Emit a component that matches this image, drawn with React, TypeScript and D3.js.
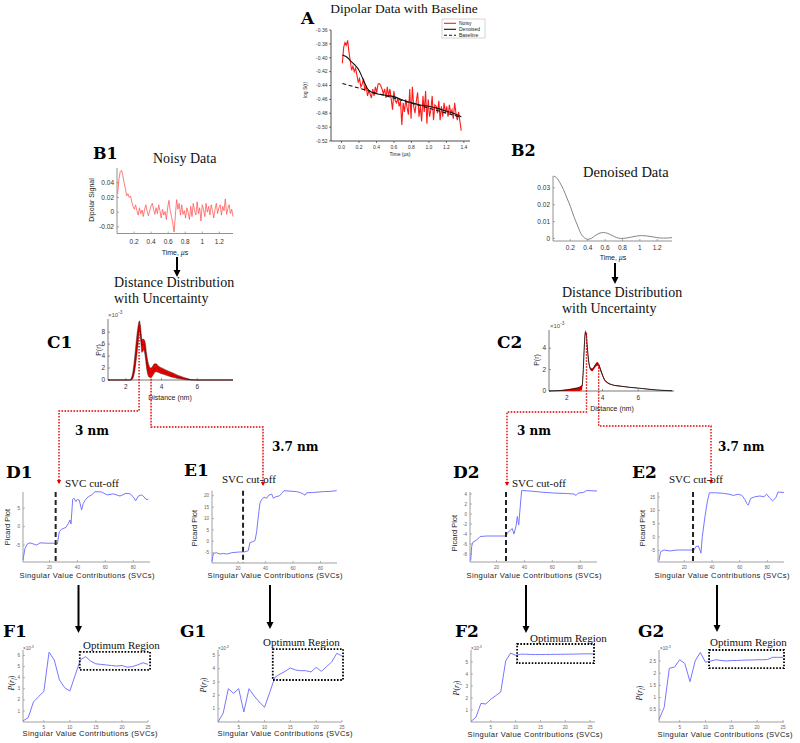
import React from 'react';
import * as d3 from 'd3';

const SERIF = "'Liberation Serif','Times New Roman',serif";
const BOLD = "'DejaVu Serif','Liberation Serif',serif";
const SANS = "'Liberation Sans',Arial,sans-serif";

// ---------- Panel A ----------
const aNoisy = [
  -0.408, -0.385, -0.378, -0.382, -0.375, -0.392, -0.405, -0.418, -0.412, -0.42,
  -0.415, -0.425, -0.435, -0.43, -0.442, -0.438, -0.43, -0.448, -0.44, -0.455,
  -0.448, -0.452, -0.458, -0.445, -0.455, -0.442, -0.45, -0.438, -0.437, -0.44,
  -0.445, -0.452, -0.445, -0.458, -0.442, -0.455, -0.445, -0.46, -0.475, -0.448,
  -0.462, -0.465, -0.458, -0.47, -0.462, -0.497, -0.465, -0.478, -0.46, -0.472,
  -0.482, -0.445, -0.488, -0.442, -0.47, -0.48, -0.462, -0.45, -0.485, -0.47,
  -0.492, -0.455, -0.478, -0.448, -0.495, -0.46, -0.485, -0.475, -0.455, -0.49,
  -0.468, -0.47, -0.48, -0.462, -0.49, -0.47, -0.485, -0.465, -0.48, -0.47,
  -0.485, -0.468, -0.48, -0.475, -0.488, -0.465, -0.48, -0.49, -0.478, -0.492,
  -0.505,
];
const aTimeSpan = [0.01, 1.37];
const aDenoisedT = [0.01, 0.06, 0.1, 0.15, 0.2, 0.25, 0.3, 0.35, 0.4, 0.5, 0.6, 0.7, 0.8, 0.9, 1.0, 1.1, 1.2, 1.3, 1.37];
const aDenoisedV = [-0.396, -0.399, -0.404, -0.41, -0.418, -0.432, -0.445, -0.45, -0.452, -0.454, -0.456, -0.461, -0.465, -0.468, -0.47, -0.473, -0.477, -0.481, -0.485];
const aBaselineT = [0.01, 1.37];
const aBaselineV = [-0.437, -0.486];
const aXTicks = [0, 0.2, 0.4, 0.6, 0.8, 1.0, 1.2, 1.4];
const aYTicks = [-0.52, -0.5, -0.48, -0.46, -0.44, -0.42, -0.4, -0.38, -0.36];
const aLegend = ['Noisy', 'Denoised', 'Baseline'];

// ---------- Panel B ----------
const b1Noisy = [
  0.025, 0.045, 0.055, 0.057, 0.05, 0.04, 0.032, 0.022, 0.025, 0.02,
  0.022, 0.014, 0.008, 0.004, 0.01, 0.002, -0.004, 0.006, -0.002, 0.003,
  -0.006, 0.004, 0.01, 0.001, -0.005, 0.002, 0.008, 0.012, 0.004, -0.003,
  0.006, -0.002, 0.01, 0.002, -0.008, 0.004, -0.004, 0.001, -0.01, 0.006,
  0.016, 0.002, -0.006, -0.015, -0.027, -0.005, 0.017, 0.004, 0.012, -0.004,
  0.01, -0.003, 0.002, -0.008, 0.006, 0.0, -0.01, 0.008, -0.006, 0.012,
  0.002, -0.004, 0.014, -0.002, 0.006, -0.012, 0.01, 0.004, -0.006, 0.012,
  0.0, 0.008, -0.004, 0.01, 0.002, -0.008, 0.004, 0.012, -0.002, 0.006,
  0.01, -0.004, 0.008, 0.002, 0.018, -0.003, 0.005, 0.01, -0.002, 0.004,
  -0.006,
];
const b1TimeSpan = [0.008, 1.36];
const b2T = [0.005, 0.04, 0.08, 0.12, 0.16, 0.2, 0.24, 0.28, 0.32, 0.36, 0.4, 0.44, 0.48, 0.53, 0.58, 0.63, 0.68, 0.73, 0.78, 0.84, 0.9, 0.96, 1.02, 1.08, 1.14, 1.2, 1.27, 1.33, 1.37];
const b2V = [0.037, 0.036, 0.033, 0.029, 0.024, 0.019, 0.013, 0.008, 0.003, 0.0005, -0.0005, 0.0, 0.0015, 0.003, 0.0035, 0.003, 0.0018, 0.0006, 0.0, 0.0002, 0.0008, 0.0014, 0.0017, 0.0015, 0.001, 0.0005, 0.0002, 0.0003, 0.0005];
const bXTicks = [0.2, 0.4, 0.6, 0.8, 1, 1.2];
const b1YTicks = [-0.02, 0, 0.02, 0.04];
const b2YTicks = [0, 0.01, 0.02, 0.03];

// ---------- Panel C ----------
const c1Nm = [1, 2.2, 2.3, 2.4, 2.5, 2.6, 2.7, 2.76, 2.82, 2.9, 3.0, 3.08, 3.15, 3.22, 3.3, 3.4, 3.5, 3.6, 3.7, 3.8, 3.95, 4.1, 4.3, 4.5, 4.7, 4.9, 5.1, 5.3, 5.5, 5.7, 6, 8];
const c1Mean = [0, 0, 0.1, 0.8, 2.5, 5.2, 8.0, 9.2, 8.0, 5.8, 6.0, 5.2, 3.5, 2.2, 1.4, 1.1, 1.4, 1.9, 2.1, 1.9, 1.6, 1.4, 1.15, 0.9, 0.7, 0.5, 0.35, 0.2, 0.1, 0.02, 0, 0];
const c1Lo = [0, 0, 0, 0.3, 1.5, 3.8, 6.5, 8.2, 7.0, 4.6, 5.0, 4.0, 2.2, 1.0, 0.5, 0.4, 0.7, 1.2, 1.4, 1.3, 1.1, 0.95, 0.75, 0.55, 0.4, 0.25, 0.15, 0.07, 0.02, 0, 0, 0];
const c1Hi = [0, 0, 0.3, 1.5, 4.0, 7.0, 9.3, 9.9, 9.0, 6.8, 6.8, 6.3, 4.6, 3.3, 2.4, 2.0, 2.3, 2.7, 2.7, 2.4, 2.1, 1.9, 1.6, 1.35, 1.1, 0.8, 0.6, 0.38, 0.2, 0.05, 0, 0];
const c2Nm = [1, 1.5, 2, 2.4, 2.7, 2.85, 2.92, 2.98, 3.04, 3.08, 3.14, 3.22, 3.32, 3.42, 3.55, 3.7, 3.8, 3.95, 4.1, 4.3, 4.5, 5, 5.5, 6, 6.5, 7, 7.5, 7.9];
const c2Mean = [0, 0.03, 0.1, 0.2, 0.3, 0.45, 2.0, 4.3, 5.5, 5.4, 4.2, 2.8, 2.1, 2.0, 2.3, 2.6, 2.4, 1.7, 1.1, 0.75, 0.6, 0.45, 0.35, 0.27, 0.18, 0.1, 0.05, 0.02];
const c2Lo = [0, 0, 0, 0, 0, 0.1, 1.7, 4.0, 5.3, 5.2, 4.0, 2.6, 1.95, 1.85, 2.1, 2.35, 2.2, 1.55, 1.0, 0.7, 0.55, 0.42, 0.33, 0.25, 0.16, 0.09, 0.04, 0.01];
const c2Hi = [0, 0.05, 0.15, 0.28, 0.4, 0.6, 2.2, 4.5, 5.65, 5.55, 4.35, 2.95, 2.2, 2.1, 2.4, 2.7, 2.5, 1.8, 1.15, 0.8, 0.63, 0.48, 0.37, 0.29, 0.2, 0.11, 0.06, 0.03];
const cXTicks = [2, 4, 6];
const c1YTicks = [0, 2, 4, 6, 8];
const c2YTicks = [0, 2, 4];
const c1Picks = [2.74, 3.41];
const c2Picks = [3.1, 3.78];
const pickLabels = ['3 nm', '3.7 nm'];

// ---------- Panels D / E (Picard plots) ----------
const d1X = [1, 2.4, 4.1, 6, 8.4, 10.8, 13.2, 18, 23.9, 25.6, 27, 28.7, 31.8, 33.5, 34.7, 35.4, 36.6, 37.5, 38.9, 39.9, 41.3, 43, 44.2, 45.9, 47.8, 50.2, 52.6, 57.4, 59.8, 61.4, 65.7, 70.5, 74.8, 77.7, 80, 81.7, 83.6, 86, 87.7, 89.1, 90.8];
const d1Y = [-9.1, -5.9, -4.7, -4.4, -4.7, -5.0, -4.4, -4.5, -4.5, -4.7, -1.4, -0.7, -0.2, 0.9, 1.8, 0.7, 7.4, 7.7, 6.8, 7.4, 7.2, 4.5, 6.3, 7.4, 8.1, 8.6, 9.5, 9.4, 8.9, 8.6, 8.9, 8.3, 9.05, 8.9, 8.1, 7.0, 8.3, 8.6, 8.1, 7.4, 7.4];
const e1X = [1, 2, 4.4, 6.8, 9.2, 11.7, 15.3, 20.1, 25, 27.4, 28.6, 30.3, 32.3, 33.5, 34.7, 35.9, 37.2, 38.9, 40.8, 42.5, 44.5, 45.7, 47.6, 50, 51.7, 53.4, 57.8, 62.7, 65.6, 67.5, 68.7, 69.9, 74.8, 82, 86.9, 91.8];
const e1Y = [-8.9, -5.3, -5.0, -5.6, -5.3, -5.6, -5.0, -4.7, -4.6, -4.1, -0.6, -0.2, 0.3, 4.2, 10.8, 16.7, 18.4, 19.3, 18.9, 20.3, 20.7, 18.9, 19.6, 19.9, 21.0, 22.2, 22.0, 21.8, 21.3, 20.7, 20.2, 21.3, 21.4, 21.8, 21.9, 22.2];
const d2X = [1.5, 2.2, 2.9, 5.8, 8.2, 13, 26.8, 28, 29.7, 31.3, 32.5, 34, 34.9, 35.9, 36.8, 38, 44, 51.2, 60.7, 70.3, 75.5, 77, 78.6, 82.2, 84.6, 92];
const d2Y = [-9.3, -6.5, -5.7, -5.2, -4.5, -4.4, -4.4, -3.7, -3.3, -2.9, -4.0, -2.4, -0.5, -2.2, 0.8, 4.7, 4.6, 4.4, 4.2, 4.1, 4.0, 3.7, 4.2, 4.3, 4.7, 4.6];
const e2X = [1.7, 2.9, 5.3, 9.7, 14.5, 24.1, 27, 28.4, 30.1, 31.3, 32, 33, 34.9, 36.6, 38.1, 43.4, 48.2, 53, 55.4, 58.3, 61.4, 63.8, 65, 66.2, 67.9, 71, 74.6, 77.5, 79.5, 81.4, 83.8, 86.2, 87.6, 92];
const e2Y = [-8.9, -5.5, -4.9, -5.25, -4.9, -4.9, -4.9, -3.6, -3.4, -4.9, -6.1, 0.1, 7.6, 13.2, 16.6, 16.6, 16.4, 16.0, 15.6, 16.0, 15.75, 14.1, 12.6, 12.0, 14.5, 15.1, 15.4, 15.1, 16.1, 14.8, 13.6, 14.8, 16.9, 16.7];
const svcCutoff = { d1: 24.4, e1: 23.6, d2: 26.8, e2: 26.3 };
const deXTicks = [20, 40, 60, 80];

// ---------- Panels F / G ----------
const f1 = [0.1, 0.4, 1.8, 2.3, 2.75, 6.3, 5.6, 3.8, 3.1, 2.8, 4.2, 5.6, 5.9, 5.5, 5.25, 5.2, 5.15, 5.1, 5.05, 5.1, 4.95, 5.0, 5.15, 5.35, 5.2];
const g1 = [0, 0.65, 2.5, 2.15, 2.5, 0.75, 2.5, 1.95, 1.5, 1.1, 2.2, 3.35, 3.6, 3.8, 4.05, 3.9, 3.85, 3.85, 3.75, 4.1, 3.8, 4.15, 4.5, 5.15, 4.95];
const f2 = [0.05, 0.4, 1.55, 1.5, 1.9, 2.2, 2.5, 5.1, 5.75, 5.55, 5.65, 5.65, 5.63, 5.62, 5.62, 5.63, 5.63, 5.64, 5.64, 5.65, 5.65, 5.66, 5.67, 5.68, 5.68, 5.66];
const g2 = [0.1, 0.6, 2.2, 2.25, 2.55, 2.4, 1.65, 2.5, 2.85, 2.45, 2.5, 2.55, 2.52, 2.5, 2.52, 2.52, 2.53, 2.54, 2.54, 2.55, 2.55, 2.56, 2.65, 2.65, 2.65];
const fgXTicks = [5, 10, 15, 20, 25];
const optF1 = [11.9, 25.4, 4.7, 6.33];
const optG1 = [11.6, 25.2, 3.15, 5.47];
const optF2 = [10.3, 25.8, 4.9, 6.5];
const optG2 = [10.7, 25.2, 2.21, 2.95];

type Lin = d3.ScaleLinear<number, number>;

function Axes(p: {
  x: Lin; y: Lin; xt: number[]; yt: number[]; fs: number;
  xf?: (v: number) => string; yf?: (v: number) => string;
  col?: string; tcol?: string; tl?: number; out?: boolean; xOff?: number; yOff?: number;
}) {
  const xf = p.xf ?? ((v: number) => String(v));
  const yf = p.yf ?? ((v: number) => String(v));
  const col = p.col ?? '#666';
  const tcol = p.tcol ?? '#444';
  const tl = p.tl ?? 2;
  const s = p.out ? 1 : -1;
  const [xa, xb] = p.x.range();
  const [ya, yb] = p.y.range();
  const xOff = p.xOff ?? p.fs + 2;
  const yOff = p.yOff ?? 3;
  return (
    <g fontFamily={SANS} fontSize={p.fs} fill={tcol}>
      <line x1={xa} x2={xb} y1={ya} y2={ya} stroke={col} strokeWidth={0.8} />
      <line x1={xa} x2={xa} y1={ya} y2={yb} stroke={col} strokeWidth={0.8} />
      {p.xt.map((t) => (
        <g key={'x' + t}>
          <line x1={p.x(t)} x2={p.x(t)} y1={ya} y2={ya + s * tl} stroke={col} strokeWidth={0.6} />
          <text x={p.x(t)} y={ya + xOff} textAnchor="middle">{xf(t)}</text>
        </g>
      ))}
      {p.yt.map((t) => (
        <g key={'y' + t}>
          <line x1={xa} x2={xa - s * tl} y1={p.y(t)} y2={p.y(t)} stroke={col} strokeWidth={0.6} />
          <text x={xa - yOff} y={p.y(t) + p.fs * 0.35} textAnchor="end">{yf(t)}</text>
        </g>
      ))}
    </g>
  );
}

function pathXY(xs: number[], ys: number[], x: Lin, y: Lin, curve: d3.CurveFactory = d3.curveLinear) {
  return d3.line<number>().x((_, i) => x(xs[i])).y((d) => y(d)).curve(curve)(ys) ?? '';
}

function grid(span: number[], n: number) {
  return d3.range(n).map((i) => span[0] + (i * (span[1] - span[0])) / (n - 1));
}

function DownArrow({ x, y1, y2, color = '#000', w = 2, head = 7, hw = 3.5 }: { x: number; y1: number; y2: number; color?: string; w?: number; head?: number; hw?: number }) {
  return (
    <g>
      <line x1={x} x2={x} y1={y1} y2={y2 - head + 1} stroke={color} strokeWidth={w} />
      <path d={`M${x - hw},${y2 - head} L${x + hw},${y2 - head} L${x},${y2} Z`} fill={color} />
    </g>
  );
}

function RotLabel({ x, y, children, fs = 7.5, family = SANS, color = '#222', italic = false }: any) {
  return (
    <text transform={`translate(${x},${y}) rotate(-90)`} textAnchor="middle" fontFamily={family} fontSize={fs} fill={color} fontStyle={italic ? 'italic' : 'normal'}>
      {children}
    </text>
  );
}

function Times10({ x, y, fs }: { x: number; y: number; fs: number }) {
  return (
    <text x={x} y={y} fontFamily={SANS} fontSize={fs} fill="#555">
      ×10<tspan dy={-fs * 0.45} fontSize={fs * 0.8}>-3</tspan>
    </text>
  );
}

function PrfLabel({ x, y }: { x: number; y: number }) {
  return (
    <text transform={`translate(${x},${y}) rotate(-90)`} textAnchor="middle" fontFamily={SERIF} fontSize={8} fill="#222">
      <tspan fontStyle="italic">P</tspan>(<tspan fontStyle="italic">r</tspan>
      <tspan fontSize={5.5} dy={1.5} fontStyle="italic">f</tspan>
      <tspan dy={-1.5}>)</tspan>
    </text>
  );
}

function SvcLabel({ cx, y }: { cx: number; y: number }) {
  return (
    <text x={cx} y={y} textAnchor="middle" fontFamily={SANS} fontSize={7.6} fill="#222" textLength={135} lengthAdjust="spacing">
      Singular Value Contributions (SVCs)
    </text>
  );
}

function PanelLetter({ x, y, t, fs = 17 }: { x: number; y: number; t: string; fs?: number }) {
  return (
    <text x={x} y={y} fontFamily={BOLD} fontWeight="bold" fontSize={fs} fill="#000">{t}</text>
  );
}

export default function App() {
  // ----- A -----
  const xA = d3.scaleLinear().domain([-0.12, 1.47]).range([331, 470]);
  const yA = d3.scaleLinear().domain([-0.52, -0.36]).range([141, 30]);
  const aT = grid(aTimeSpan, aNoisy.length);

  // ----- B -----
  const xB1 = d3.scaleLinear().domain([0, 1.36]).range([117, 233]);
  const yB1 = d3.scaleLinear().domain([-0.029, 0.06]).range([233.5, 168]);
  const b1T = grid(b1TimeSpan, b1Noisy.length);
  const xB2 = d3.scaleLinear().domain([0, 1.37]).range([553, 672]);
  const yB2 = d3.scaleLinear().domain([-0.0015, 0.037]).range([241, 176]);
  const bxf = (v: number) => String(v);
  const byf = (v: number) => (v === 0 ? '0' : v.toFixed(2));

  // ----- C -----
  const xC1 = d3.scaleLinear().domain([1, 8]).range([108, 233]);
  const yC1 = d3.scaleLinear().domain([0, 10.2]).range([380, 319]);
  const xC2 = d3.scaleLinear().domain([1, 8]).range([549, 674]);
  const yC2 = d3.scaleLinear().domain([0, 5.7]).range([391, 330]);
  const band = (xs: number[], lo: number[], hi: number[], x: Lin, y: Lin) =>
    d3.area<number>().x((_, i) => x(xs[i])).y0((_, i) => y(lo[i])).y1((d) => y(d)).curve(d3.curveMonotoneX)(hi) ?? '';

  // ----- D / E -----
  const xD1 = d3.scaleLinear().domain([1, 92]).range([23, 150]);
  const yD1 = d3.scaleLinear().domain([-9.6, 9.4]).range([562, 492]);
  const xE1 = d3.scaleLinear().domain([1, 92]).range([212, 337]);
  const yE1 = d3.scaleLinear().domain([-9.5, 22.2]).range([563, 490.7]);
  const xD2 = d3.scaleLinear().domain([1, 92]).range([470, 597]);
  const yD2 = d3.scaleLinear().domain([-9.6, 4.4]).range([562, 492]);
  const xE2 = d3.scaleLinear().domain([1, 92]).range([658, 784]);
  const yE2 = d3.scaleLinear().domain([-9.4, 16.9]).range([562, 492]);

  // ----- F / G -----
  const xF1 = d3.scaleLinear().domain([1, 25]).range([23, 148]);
  const yF1 = d3.scaleLinear().domain([0, 6.5]).range([722, 650]);
  const xG1 = d3.scaleLinear().domain([1, 25]).range([218, 342]);
  const yG1 = d3.scaleLinear().domain([0, 5.4]).range([722, 650]);
  const xF2 = d3.scaleLinear().domain([1, 26]).range([471, 595]);
  const yF2 = d3.scaleLinear().domain([0, 6]).range([722, 650]);
  const xG2 = d3.scaleLinear().domain([1, 25.2]).range([659, 784]);
  const yG2 = d3.scaleLinear().domain([0, 2.95]).range([722, 650]);
  const svcIdx = (arr: number[]) => arr.map((_, i) => i + 1);

  const BLUE = '#7777ff';
  const RED_DOT = '#e00000';

  const picard = (key: string, xs: number[], ys: number[], x: Lin, y: Lin, yt: number[], cut: number) => (
    <g key={key}>
      <Axes x={x} y={y} xt={deXTicks} yt={yt} fs={4.6} col="#888" tcol="#666" xOff={6.5} yOff={3} />
      <path d={pathXY(xs, ys, x, y)} fill="none" stroke={BLUE} strokeWidth={1} />
      <line x1={x(cut)} x2={x(cut)} y1={y.range()[1]} y2={y.range()[0]} stroke="#222" strokeWidth={2} strokeDasharray="5,3" />
    </g>
  );

  const fg = (key: string, vals: number[], x: Lin, y: Lin, yt: number[], box: number[]) => (
    <g key={key}>
      <Axes x={x} y={y} xt={fgXTicks} yt={yt} fs={4.6} col="#888" tcol="#666" xOff={6.5} yOff={3} />
      <path d={pathXY(svcIdx(vals), vals, x, y)} fill="none" stroke={BLUE} strokeWidth={1} />
      <rect x={x(box[0])} y={y(box[3])} width={x(box[1]) - x(box[0])} height={y(box[2]) - y(box[3])}
        fill="none" stroke="#000" strokeWidth={1.8} strokeDasharray="1.6,1.6" />
    </g>
  );

  const redPath = (d: string, ax: number, ay: number) => (
    <g>
      <path d={d} fill="none" stroke={RED_DOT} strokeWidth={1.4} strokeDasharray="1.6,1.4" />
      <path d={`M${ax - 2.2},${ay - 4} L${ax + 2.2},${ay - 4} L${ax},${ay} Z`} fill={RED_DOT} />
    </g>
  );

  return (
    <svg width={800} height={743} style={{ position: 'absolute', left: 0, top: 0, background: '#fff' }}>
      <rect x={0} y={0} width={800} height={743} fill="#fff" />

      {/* ===== A ===== */}
      <PanelLetter x={301} y={24} t="A" fs={17} />
      <text x={404} y={13} textAnchor="middle" fontFamily={SERIF} fontSize={13.5} fill="#111">Dipolar Data with Baseline</text>
      <Axes x={xA} y={yA} xt={aXTicks} yt={aYTicks} fs={5} col="#222" tcol="#333" out tl={2}
        xf={(v) => v.toFixed(1)} yf={(v) => v.toFixed(2)} xOff={7.5} yOff={3.5} />
      <path d={pathXY(aT, aNoisy, xA, yA)} fill="none" stroke="#ff1a1a" strokeWidth={1.1} />
      <path d={pathXY(aDenoisedT, aDenoisedV, xA, yA, d3.curveMonotoneX)} fill="none" stroke="#111" strokeWidth={1.1} />
      <path d={pathXY(aBaselineT, aBaselineV, xA, yA)} fill="none" stroke="#111" strokeWidth={1.1} strokeDasharray="4,2.5" />
      <RotLabel x={307} y={90} fs={5}>log S(t)</RotLabel>
      <text x={400} y={156} textAnchor="middle" fontFamily={SANS} fontSize={5} fill="#222">Time (µs)</text>
      <g fontFamily={SANS} fontSize={5} fill="#222">
        <rect x={442} y={19} width={43} height={19} fill="#fff" stroke="#aaa" strokeWidth={0.5} />
        {aLegend.map((t, i) => (
          <g key={t}>
            <line x1={444} x2={456} y1={23.3 + i * 6} y2={23.3 + i * 6}
              stroke={i === 0 ? '#ff1a1a' : '#111'} strokeWidth={1.1} strokeDasharray={i === 2 ? '3,2' : undefined} />
            <text x={459} y={25 + i * 6}>{t}</text>
          </g>
        ))}
      </g>

      {/* ===== B1 ===== */}
      <PanelLetter x={93} y={159} t="B1" fs={16} />
      <text x={153} y={163} fontFamily={SERIF} fontSize={14} fill="#111">Noisy Data</text>
      <Axes x={xB1} y={yB1} xt={bXTicks} yt={b1YTicks} fs={6.5} col="#777" tcol="#333" xOff={10} xf={bxf} yf={byf} />
      <path d={pathXY(b1T, b1Noisy, xB1, yB1)} fill="none" stroke="#ff5a5a" strokeWidth={0.8} />
      <RotLabel x={94} y={200} fs={7}>Dipolar Signal</RotLabel>
      <text x={175} y={255} textAnchor="middle" fontFamily={SANS} fontSize={7} fill="#222">
        Time, <tspan fontStyle="italic">µ</tspan>s
      </text>
      <DownArrow x={177} y1={257} y2={277} />

      {/* ===== B2 ===== */}
      <PanelLetter x={511} y={156} t="B2" fs={16} />
      <text x={583} y={177} fontFamily={SERIF} fontSize={14.5} fill="#111">Denoised Data</text>
      <Axes x={xB2} y={yB2} xt={bXTicks} yt={b2YTicks} fs={6.5} col="#777" tcol="#333" xOff={8.5} xf={bxf} yf={byf} />
      <path d={pathXY(b2T, b2V, xB2, yB2, d3.curveMonotoneX)} fill="none" stroke="#777" strokeWidth={0.9} />
      <text x={613} y={260} textAnchor="middle" fontFamily={SANS} fontSize={7} fill="#222">
        Time, <tspan fontStyle="italic">µ</tspan>s
      </text>
      <DownArrow x={615} y1={263} y2={284} />

      {/* ===== Distance distribution titles ===== */}
      <g fontFamily={SERIF} fontSize={14} fill="#111">
        <text x={114} y={287}>Distance Distribution</text>
        <text x={114} y={303}>with Uncertainty</text>
        <text x={562} y={297}>Distance Distribution</text>
        <text x={562} y={313}>with Uncertainty</text>
      </g>

      {/* ===== C1 ===== */}
      <PanelLetter x={47} y={348} t="C1" fs={17} />
      <Axes x={xC1} y={yC1} xt={cXTicks} yt={c1YTicks} fs={6.5} col="#555" tcol="#333" xOff={9} />
      <path d={band(c1Nm, c1Lo, c1Hi, xC1, yC1)} fill="#f00000" stroke="#222" strokeWidth={0.45} />
      <path d={pathXY(c1Nm, c1Mean, xC1, yC1, d3.curveMonotoneX)} fill="none" stroke="#7a0000" strokeWidth={0.6} />
      <Times10 x={108} y={317} fs={6} />
      <RotLabel x={101} y={350} fs={7}>P(r)</RotLabel>
      <text x={170} y={400} textAnchor="middle" fontFamily={SANS} fontSize={7} fill="#222">Distance (nm)</text>

      {/* ===== C2 ===== */}
      <PanelLetter x={497} y={348} t="C2" fs={17} />
      <Axes x={xC2} y={yC2} xt={cXTicks} yt={c2YTicks} fs={6.5} col="#555" tcol="#333" xOff={8.5} />
      <path d={band(c2Nm, c2Lo, c2Hi, xC2, yC2)} fill="#e60000" stroke="none" />
      <path d={pathXY(c2Nm, c2Mean, xC2, yC2, d3.curveMonotoneX)} fill="none" stroke="#222" strokeWidth={1} />
      <Times10 x={550} y={328} fs={6} />
      <RotLabel x={539} y={360} fs={7}>P(r)</RotLabel>
      <text x={612} y={411} textAnchor="middle" fontFamily={SANS} fontSize={7} fill="#222">Distance (nm)</text>

      {/* ===== red dotted connectors ===== */}
      {redPath(`M${xC1(c1Picks[0])},${yC1(9.2)} V411 H59 V483`, 59, 484)}
      {redPath(`M${xC1(c1Picks[1])},${yC1(1.2)} V427 H263 V485`, 263, 486)}
      {redPath(`M${xC2(c2Picks[0])},${yC2(5.4)} V412 H507 V485`, 507, 486)}
      {redPath(`M${xC2(c2Picks[1])},${yC2(2.5)} V426 H711 V483`, 711, 484)}
      <g fontFamily={BOLD} fontWeight="bold" fontSize={12} fill="#000">
        <text x={75} y={435}>{pickLabels[0]}</text>
        <text x={272} y={451}>{pickLabels[1]}</text>
        <text x={517} y={435}>{pickLabels[0]}</text>
        <text x={718} y={451}>{pickLabels[1]}</text>
      </g>

      {/* ===== D / E ===== */}
      <PanelLetter x={6} y={478} t="D1" fs={17} />
      <PanelLetter x={184} y={476} t="E1" fs={17} />
      <PanelLetter x={453} y={478} t="D2" fs={17} />
      <PanelLetter x={632} y={478} t="E2" fs={17} />
      <g fontFamily={SERIF} fontSize={11} fill="#111">
        <text x={65} y={487}>SVC cut-off</text>
        <text x={222} y={483}>SVC cut-off</text>
        <text x={512} y={487}>SVC cut-off</text>
        <text x={669} y={483}>SVC cut-off</text>
      </g>
      {picard('d1', d1X, d1Y, xD1, yD1, [-5, 0, 5], svcCutoff.d1)}
      {picard('e1', e1X, e1Y, xE1, yE1, [-5, 0, 5, 10, 15, 20], svcCutoff.e1)}
      {picard('d2', d2X, d2Y, xD2, yD2, [-8, -6, -4, -2, 0, 2, 4], svcCutoff.d2)}
      {picard('e2', e2X, e2Y, xE2, yE2, [-5, 0, 5, 10, 15], svcCutoff.e2)}
      <RotLabel x={10} y={527} fs={7.5}>Picard Plot</RotLabel>
      <RotLabel x={197} y={528} fs={7.5}>Picard Plot</RotLabel>
      <RotLabel x={457} y={533} fs={7.5}>Picard Plot</RotLabel>
      <RotLabel x={645} y={528} fs={7.5}>Picard Plot</RotLabel>
      <SvcLabel cx={87} y={578} />
      <SvcLabel cx={275} y={578} />
      <SvcLabel cx={534} y={578} />
      <SvcLabel cx={722} y={578} />

      <DownArrow x={78.5} y1={585} y2={633} />
      <DownArrow x={270} y1={585} y2={629} />
      <DownArrow x={526} y1={585} y2={633} />
      <DownArrow x={717} y1={585} y2={632} />

      {/* ===== F / G ===== */}
      <PanelLetter x={3} y={637} t="F1" fs={17} />
      <PanelLetter x={180} y={637} t="G1" fs={17} />
      <PanelLetter x={455} y={637} t="F2" fs={17} />
      <PanelLetter x={638} y={637} t="G2" fs={17} />
      <g fontFamily={SERIF} fontSize={11} fill="#111">
        <text x={83} y={649}>Optimum Region</text>
        <text x={263} y={646}>Optimum Region</text>
        <text x={530} y={642}>Optimum Region</text>
        <text x={710} y={646}>Optimum Region</text>
      </g>
      {fg('f1', f1, xF1, yF1, [1, 2, 3, 4, 5, 6], optF1)}
      {fg('g1', g1, xG1, yG1, [1, 2, 3, 4, 5], optG1)}
      {fg('f2', f2, xF2, yF2, [1, 2, 3, 4, 5], optF2)}
      {fg('g2', g2, xG2, yG2, [0.5, 1, 1.5, 2, 2.5], optG2)}
      <Times10 x={23} y={650} fs={4.5} />
      <Times10 x={218} y={650} fs={4.5} />
      <Times10 x={471} y={650} fs={4.5} />
      <Times10 x={660} y={650} fs={4.5} />
      <PrfLabel x={14} y={683} />
      <PrfLabel x={206} y={685} />
      <PrfLabel x={459} y={688} />
      <PrfLabel x={642} y={693} />
      <SvcLabel cx={90} y={736} />
      <SvcLabel cx={285} y={736} />
      <SvcLabel cx={535} y={737} />
      <SvcLabel cx={725} y={737} />
    </svg>
  );
}
